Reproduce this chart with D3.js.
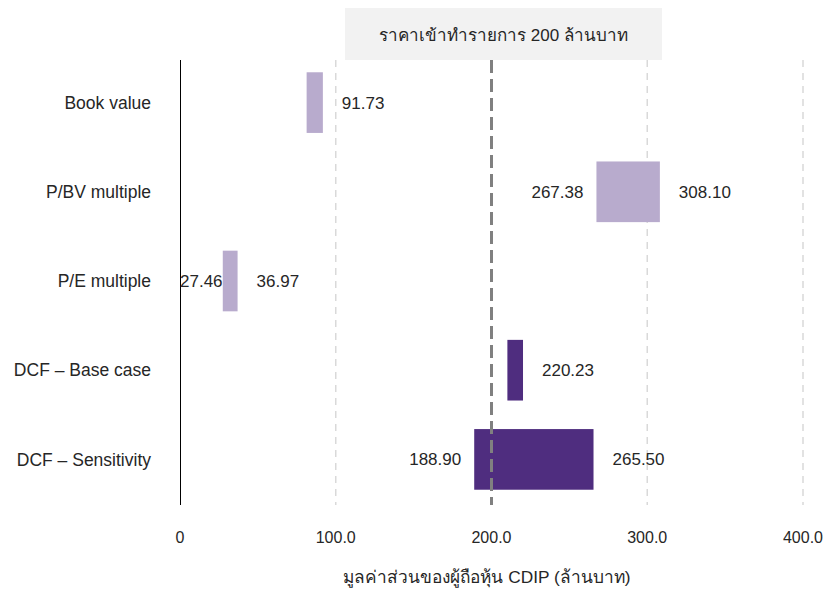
<!DOCTYPE html>
<html><head><meta charset="utf-8">
<script src="https://cdn.jsdelivr.net/npm/d3@7"></script>
<style>body{margin:0;background:#fff;} svg{font-family:"Liberation Sans",Arial,sans-serif;}</style>
</head><body>
<svg id="c" width="828" height="590"></svg>
<script>
const categories = ["Book value","P/BV multiple","P/E multiple","DCF – Base case","DCF – Sensitivity"];
const lowValues  = [81.3, 267.38, 27.46, 210.2, 188.90];
const highValues = [91.73, 308.10, 36.97, 220.23, 265.50];
const showLow    = [false, true, true, false, true];
const barColors  = ["#b8abcd","#b8abcd","#b8abcd","#4f2d7f","#4f2d7f"];
const xTicks = [0,100,200,300,400];
const refValue = 200;
const title = "ราคาเข้าทำรายการ 200 ล้านบาท";
const xTitle = "มูลค่าส่วนของผู้ถือหุ้น CDIP (ล้านบาท)";

(function(){
const svg = d3.select("#c");
const x = d3.scaleLinear().domain([0,400]).range([180,803]);
const y = d3.scaleBand().domain(categories).range([58,504]).paddingInner(0.32).paddingOuter(0.16);
const plotTop = 60, plotBottom = 505;

// gridlines
svg.append("g").selectAll("line").data(xTicks.filter(d=>d!==0 && d!==refValue)).join("line")
  .attr("x1",d=>x(d)).attr("x2",d=>x(d)).attr("y1",plotTop).attr("y2",plotBottom)
  .attr("stroke","#d9d9d9").attr("stroke-width",1.5).attr("stroke-dasharray","7,6");

// title box
svg.append("rect").attr("x",345).attr("y",8).attr("width",317).attr("height",52).attr("fill","#f2f2f2");
svg.append("text").attr("x",503.5).attr("y",41).attr("text-anchor","middle")
  .attr("font-size",17).attr("fill","#262626").text(title);

// bars
const g = svg.append("g");
categories.forEach((c,i)=>{
  g.append("rect").attr("x",x(lowValues[i])).attr("y",y(c))
   .attr("width",x(highValues[i])-x(lowValues[i])).attr("height",y.bandwidth())
   .attr("fill",barColors[i]);
});

// reference line
svg.append("line").attr("x1",x(refValue)).attr("x2",x(refValue)).attr("y1",plotTop).attr("y2",plotBottom)
  .attr("stroke","#808080").attr("stroke-width",3).attr("stroke-dasharray","13,6");

// y axis line
const ax = Math.round(x(0)) + 0.5;
svg.append("line").attr("x1",ax).attr("x2",ax).attr("y1",plotTop).attr("y2",plotBottom)
  .attr("stroke","#000").attr("stroke-width",1);

// category labels
svg.append("g").selectAll("text").data(categories).join("text")
  .attr("x",151).attr("y",d=>y(d)+y.bandwidth()/2).attr("dy","0.35em")
  .attr("text-anchor","end").attr("font-size",17.5).attr("fill","#262626").text(d=>d);

// value labels
categories.forEach((c,i)=>{
  const cy = y(c)+y.bandwidth()/2;
  svg.append("text").attr("x",x(highValues[i])+19).attr("y",cy).attr("dy","0.35em")
    .attr("font-size",17).attr("fill","#262626").text(highValues[i].toFixed(2));
  if(showLow[i]){
    const t = svg.append("text").attr("y",cy).attr("dy","0.35em")
      .attr("font-size",17).attr("fill","#262626").text(lowValues[i].toFixed(2));
    const w = t.node().getComputedTextLength();
    let start = x(lowValues[i]) - 13 - w;
    if(start < x(0)) start = x(0);
    t.attr("x",start);
  }
});

// x tick labels
svg.append("g").selectAll("text").data(xTicks).join("text")
  .attr("x",d=>x(d)).attr("y",543).attr("text-anchor","middle")
  .attr("font-size",16).attr("fill","#262626").text(d=>d===0?"0":d.toFixed(1));

// x title
svg.append("text").attr("x",487).attr("y",583).attr("text-anchor","middle")
  .attr("font-size",17.3).attr("fill","#262626").text(xTitle);
})();
</script>
</body></html>
